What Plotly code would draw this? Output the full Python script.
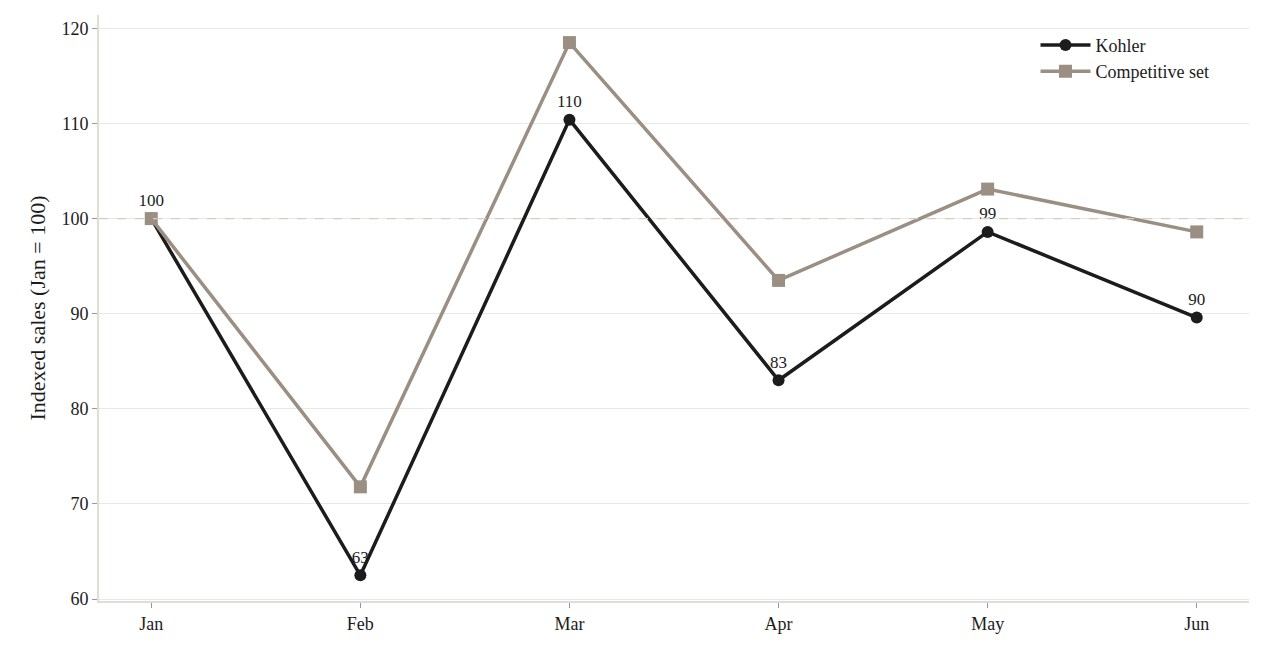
import plotly.graph_objects as go

months = ["Jan", "Feb", "Mar", "Apr", "May", "Jun"]
kohler = [100, 62.5, 110.4, 83.0, 98.6, 89.6]
comp = [100, 71.8, 118.5, 93.5, 103.1, 98.6]
kohler_labels = ["100", "63", "110", "83", "99", "90"]

font = "Liberation Serif, DejaVu Serif, serif"
fig = go.Figure()
fig.add_trace(go.Scatter(x=months, y=kohler, name="Kohler", mode="lines+markers+text",
    line=dict(color="#1c1c1c", width=3.5), marker=dict(symbol="circle", size=12, color="#1c1c1c"),
    text=kohler_labels, textposition="top center", textfont=dict(size=17, color="#1c1c1c")))
fig.add_trace(go.Scatter(x=months, y=comp, name="Competitive set", mode="lines+markers",
    line=dict(color="#9a8f82", width=3.5), marker=dict(symbol="square", size=13, color="#9a8f82")))
fig.add_hline(y=100, line=dict(color="#d6cdc2", width=1.3, dash="dash"))
fig.update_layout(
    width=1264, height=656, paper_bgcolor="white", plot_bgcolor="white",
    margin=dict(l=91, r=23, t=7, b=63),
    font=dict(family=font, size=18, color="#1c1c1c"),
    legend=dict(x=0.97, y=0.98, xanchor="right", yanchor="top", bgcolor="rgba(0,0,0,0)",
                font=dict(size=18), itemwidth=50, tracegroupgap=4),
    xaxis=dict(range=[-0.25, 5.25], showgrid=False, showline=True, linecolor="#e2ddd4", linewidth=2,
               ticks="outside", ticklen=5, tickcolor="#999"),
    yaxis=dict(range=[59.8, 121.4], dtick=10, showgrid=True, gridcolor="#e8e8e8", showline=True,
               linecolor="#e2ddd4", linewidth=2, ticks="outside", ticklen=5, tickcolor="#999",
               title=dict(text="Indexed sales (Jan = 100)", standoff=10), zeroline=False),
)
fig.write_html("out.html")
